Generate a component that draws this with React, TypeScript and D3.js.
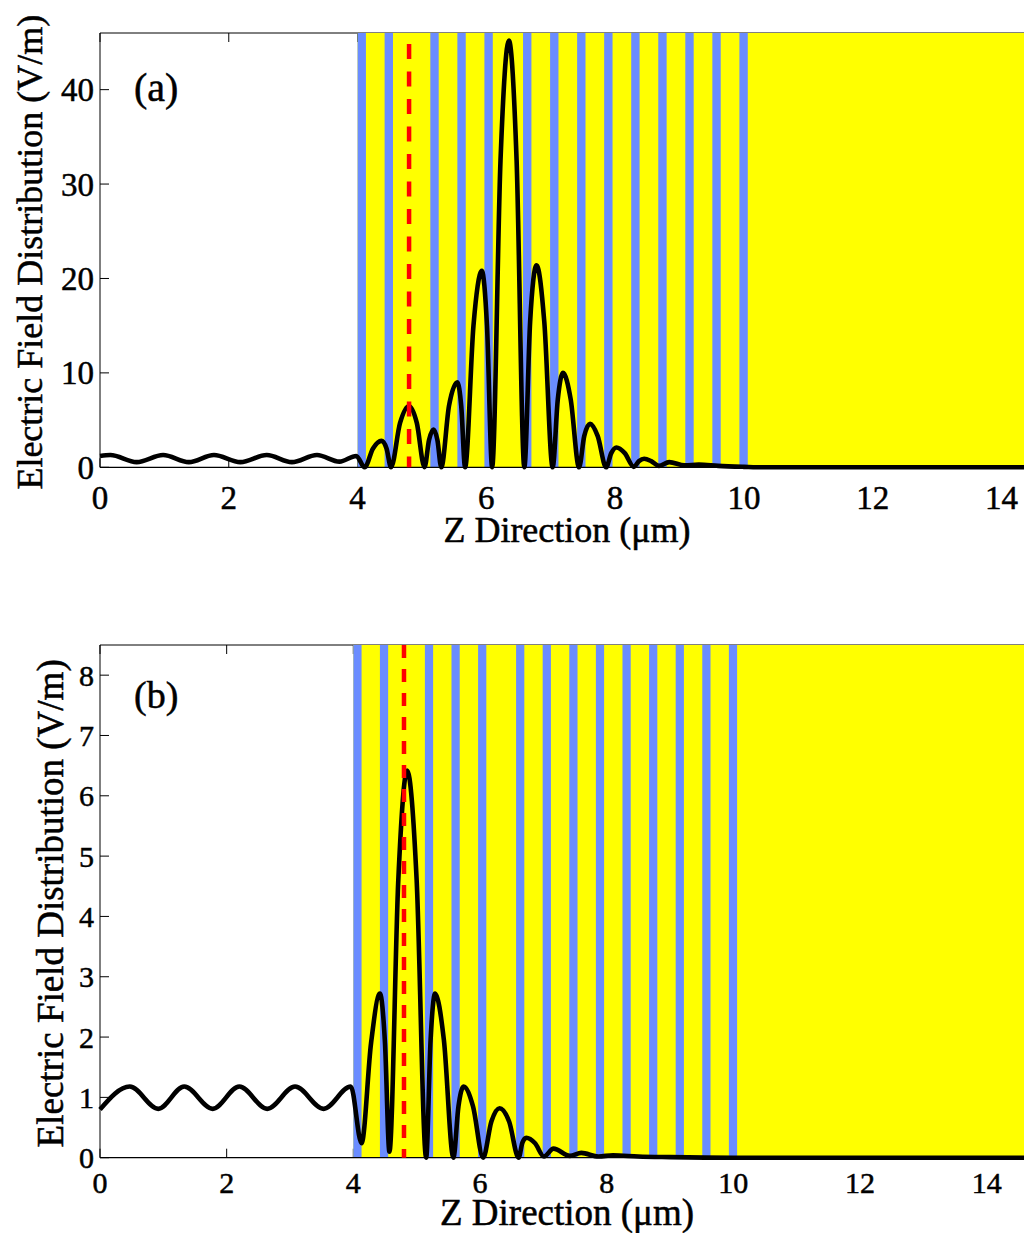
import React from "react";
import * as d3 from "d3";

const FONT = '"Liberation Serif", "Times New Roman", Times, serif';

// ---- Panel (a) field profile (z in µm, |E| in V/m) ----
const zA = [
  0, 0.16, 0.57, 0.98, 1.38, 1.77, 2.18, 2.59, 2.98, 3.37, 3.72, 3.98,
  4.11, 4.24, 4.37, 4.45, 4.52,
  4.66, 4.8, 4.92, 5.04,
  5.11, 5.18, 5.24, 5.3,
  5.42, 5.55, 5.61, 5.67,
  5.8, 5.93, 6.01, 6.09,
  6.22, 6.35, 6.47, 6.59,
  6.68, 6.78, 6.9, 7.03,
  7.11, 7.19, 7.31, 7.44,
  7.52, 7.61, 7.73, 7.86,
  7.94, 8.02, 8.15, 8.29,
  8.37, 8.45, 8.56, 8.68,
  8.84, 9.08, 9.3, 9.6, 10.0, 10.3, 14.4,
];
const eA = [
  1.2, 1.3, 0.55, 1.3, 0.55, 1.3, 0.55, 1.3, 0.55, 1.3, 0.6, 1.2,
  0, 2.0, 2.8, 2.0, 0,
  4.7, 6.5, 4.7, 0,
  2.9, 4.0, 2.9, 0,
  6.5, 9.0, 6.5, 0,
  15, 20.8, 15, 0,
  32.5, 45.2, 32.5, 0,
  15.4, 21.4, 15.4, 0,
  7.2, 10.0, 7.2, 0,
  3.3, 4.6, 3.3, 0,
  1.5, 2.1, 1.5, 0.05,
  0.65, 0.9, 0.65, 0.15,
  0.55, 0.2, 0.28, 0.15, 0.05, 0, 0,
];

// ---- Panel (b) field profile ----
const zB = [
  0, 0.47, 0.92, 1.33, 1.78, 2.2, 2.64, 3.08, 3.53, 3.96,
  4.13, 4.28, 4.42, 4.5, 4.57,
  4.71, 4.85, 5.0, 5.15,
  5.22, 5.29, 5.43, 5.58,
  5.66, 5.74, 5.89, 6.05,
  6.18, 6.31, 6.46, 6.61,
  6.67, 6.73, 6.87, 7.01,
  7.16, 7.42, 7.6, 7.87, 8.1, 8.5, 9.0, 10.0, 14.7,
];
const eB = [
  0.8, 1.18, 0.81, 1.18, 0.81, 1.18, 0.81, 1.18, 0.81, 1.18,
  0.24, 1.9, 2.72, 1.9, 0.1,
  4.6, 6.42, 4.6, 0,
  1.95, 2.72, 1.95, 0,
  0.85, 1.18, 0.85, 0,
  0.6, 0.82, 0.6, 0,
  0.25, 0.33, 0.24, 0.02,
  0.15, 0.03, 0.08, 0.02, 0.04, 0.02, 0.01, 0, 0,
];

// ---- Structure ----
const mediumStart = 4.0;
const layerStarts = [4.0, 4.42, 5.13, 5.55, 5.97, 6.57, 6.99, 7.41, 7.83, 8.25, 8.67, 9.09, 9.51, 9.93];
const layerWidth = 0.13;
const defectZ = 4.8;

const xTicks = [0, 2, 4, 6, 8, 10, 12, 14];
const yTicksA = [0, 10, 20, 30, 40];
const yTicksB = [0, 1, 2, 3, 4, 5, 6, 7, 8];

const xLabel = "Z Direction (\u03bcm)";
const yLabel = "Electric Field Distribution (V/m)";

const YELLOW = "#ffff00";
const BLUE = "#6a8cff";
const RED = "#ff0000";

type PanelProps = {
  zs: number[];
  es: number[];
  xMax: number;
  yMax: number;
  left: number;
  right: number;
  top: number;
  bottom: number;
  yTicks: number[];
  tag: string;
  tickFont: number;
  labelFont: number;
  tagFont: number;
  xTickBaseline: number;
  xLabelBaseline: number;
  xLabelX: number;
  yLabelX: number;
  tagX: number;
  tagY: number;
  dash: string;
  dashOffset: number;
};

const textStroke = { stroke: "#000", strokeWidth: 0.5 };

function Panel(p: PanelProps) {
  const x = d3.scaleLinear().domain([0, p.xMax]).range([p.left, p.right]);
  const y = d3.scaleLinear().domain([0, p.yMax]).range([p.bottom, p.top]);
  const pts: [number, number][] = p.zs.map((z, i) => [z, p.es[i]]);
  const line = d3
    .line<[number, number]>()
    .x((d) => x(d[0]))
    .y((d) => y(d[1]))
    .curve(d3.curveMonotoneX);
  const tl = 9;
  const y0 = y(0);
  const yTop = y(p.yMax);
  return (
    <g>
      {/* axes box (under patches) */}
      <line x1={x(0)} x2={p.right} y1={yTop} y2={yTop} stroke="#000" strokeWidth={1} />
      <line x1={x(0)} x2={x(0)} y1={yTop} y2={y0} stroke="#000" strokeWidth={1} />
      {xTicks.map((t) => (
        <g key={"xt" + t}>
          <line x1={x(t)} x2={x(t)} y1={y0} y2={y0 - tl} stroke="#000" />
          <line x1={x(t)} x2={x(t)} y1={yTop} y2={yTop + tl} stroke="#000" />
        </g>
      ))}
      {p.yTicks.map((t) => (
        <line key={"yt" + t} x1={x(0)} x2={x(0) + tl} y1={y(t)} y2={y(t)} stroke="#000" />
      ))}
      {/* structure */}
      <rect x={x(mediumStart)} y={yTop} width={p.right - x(mediumStart)} height={y0 - yTop} fill={YELLOW} />
      {layerStarts.map((s) => (
        <rect key={"l" + s} x={x(s)} y={yTop} width={x(s + layerWidth) - x(s)} height={y0 - yTop} fill={BLUE} />
      ))}
      {/* bottom axis on top */}
      <line x1={x(0)} x2={p.right} y1={y0} y2={y0} stroke="#000" strokeWidth={1.2} />
      {/* field */}
      <path d={line(pts) || ""} fill="none" stroke="#000" strokeWidth={4.6} strokeLinejoin="round" />
      {/* defect */}
      <line
        x1={x(defectZ)}
        x2={x(defectZ)}
        y1={yTop}
        y2={y0}
        stroke={RED}
        strokeWidth={4.5}
        strokeDasharray={p.dash}
        strokeDashoffset={p.dashOffset}
      />
      {/* tick labels */}
      {xTicks.map((t) => (
        <text
          key={"xl" + t}
          x={x(t)}
          y={p.xTickBaseline}
          fontFamily={FONT}
          fontSize={p.tickFont}
          textAnchor="middle"
          {...textStroke}
        >
          {t}
        </text>
      ))}
      {p.yTicks.map((t) => (
        <text
          key={"yl" + t}
          x={x(0) - 6}
          y={y(t)}
          dy="0.35em"
          fontFamily={FONT}
          fontSize={p.tickFont}
          textAnchor="end"
          {...textStroke}
        >
          {t}
        </text>
      ))}
      <text
        x={p.xLabelX}
        y={p.xLabelBaseline}
        fontFamily={FONT}
        fontSize={p.labelFont}
        textAnchor="middle"
        {...textStroke}
      >
        {xLabel}
      </text>
      <text
        transform={`translate(${p.yLabelX},${(yTop + y0) / 2 + 2}) rotate(-90)`}
        fontFamily={FONT}
        fontSize={p.labelFont}
        textAnchor="middle"
        dy="0.35em"
        {...textStroke}
      >
        {yLabel}
      </text>
      <text x={p.tagX} y={p.tagY} fontFamily={FONT} fontSize={p.tagFont} {...textStroke}>
        {p.tag}
      </text>
    </g>
  );
}

export default function App() {
  return (
    <svg
      width={1024}
      height={1233}
      style={{ position: "absolute", left: 0, top: 0, background: "#fff", display: "block" }}
    >
      <rect x={0} y={0} width={1024} height={1233} fill="#fff" />
      <Panel
        zs={zA}
        es={eA}
        xMax={14.35}
        yMax={46}
        left={100}
        right={1024}
        top={33}
        bottom={467.3}
        yTicks={yTicksA}
        tag="(a)"
        tickFont={33}
        labelFont={36}
        tagFont={40}
        xTickBaseline={509}
        xLabelBaseline={542}
        xLabelX={567}
        yLabelX={29}
        tagX={134}
        tagY={101}
        dash="15,12.5"
        dashOffset={-11}
      />
      <Panel
        zs={zB}
        es={eB}
        xMax={14.59}
        yMax={8.5}
        left={100}
        right={1024}
        top={645}
        bottom={1157.7}
        yTicks={yTicksB}
        tag="(b)"
        tickFont={30}
        labelFont={37}
        tagFont={38}
        xTickBaseline={1193}
        xLabelBaseline={1225}
        xLabelX={567}
        yLabelX={50}
        tagX={134}
        tagY={708}
        dash="13,11"
        dashOffset={0}
      />
    </svg>
  );
}
